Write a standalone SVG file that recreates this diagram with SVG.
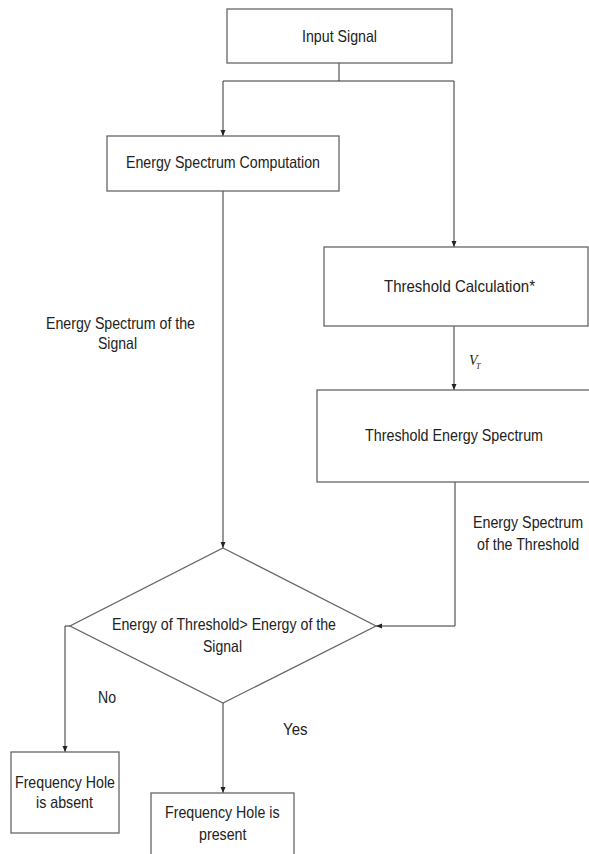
<svg xmlns="http://www.w3.org/2000/svg" width="589" height="854" viewBox="0 0 589 854">
<style>
.box{fill:#fff;stroke:#666;stroke-width:1.3}
.ln{fill:none;stroke:#333;stroke-width:1}
.t{font-family:"Liberation Sans",Arial,sans-serif;font-size:16.5px;fill:#222}
.v{font-family:"Liberation Serif","Times New Roman",serif;font-style:italic;fill:#222}
</style>
<defs>
<marker id="ah" markerUnits="userSpaceOnUse" markerWidth="7" markerHeight="6" refX="6" refY="2.5" orient="auto">
<path d="M0,0 L6,2.5 L0,5 z" fill="#222"/>
</marker>
</defs>
<rect width="589" height="854" fill="#fff"/>
<g id="connectors">
<polyline class="ln" points="339,63 339,81"/>
<polyline class="ln" points="339,81 223,81 223,136" marker-end="url(#ah)"/>
<polyline class="ln" points="339,81 454,81 454,247" marker-end="url(#ah)"/>
<polyline class="ln" points="223,191 223,548" marker-end="url(#ah)"/>
<polyline class="ln" points="454,326 454,390" marker-end="url(#ah)"/>
<polyline class="ln" points="455,482 455,626 376,626" marker-end="url(#ah)"/>
<polyline class="ln" points="70,626 65,626 65,752" marker-end="url(#ah)"/>
<polyline class="ln" points="223,703 223,793" marker-end="url(#ah)"/>
<text class="t" x="46" y="329" textLength="149" lengthAdjust="spacingAndGlyphs">Energy Spectrum of the</text>
<text class="t" x="98" y="349" textLength="39" lengthAdjust="spacingAndGlyphs">Signal</text>
<text class="v" x="469" y="365" font-size="14">V</text>
<text class="v" x="476" y="369" font-size="8">T</text>
<text class="t" transform="translate(473,528) scale(0.865,1)">Energy Spectrum</text>
<text class="t" transform="translate(477,550) scale(0.86,1)">of the Threshold</text>
<text class="t" x="98" y="703" textLength="18" lengthAdjust="spacingAndGlyphs">No</text>
<text class="t" x="283" y="735" textLength="24.5" lengthAdjust="spacingAndGlyphs">Yes</text>
</g>
<g id="input">
<rect class="box" x="227" y="9" width="225" height="54"/>
<text class="t" x="302" y="42" textLength="75" lengthAdjust="spacingAndGlyphs">Input Signal</text>
</g>
<g id="esc">
<rect class="box" x="107" y="136" width="232" height="55"/>
<text class="t" x="126" y="168" textLength="194" lengthAdjust="spacingAndGlyphs">Energy Spectrum Computation</text>
</g>
<g id="tcalc">
<rect class="box" x="324" y="247" width="264" height="79"/>
<text class="t" x="384" y="292" textLength="151" lengthAdjust="spacingAndGlyphs">Threshold Calculation*</text>
</g>
<g id="tes">
<rect class="box" x="317" y="390" width="280" height="92"/>
<text class="t" x="365" y="441" textLength="178" lengthAdjust="spacingAndGlyphs">Threshold Energy Spectrum</text>
</g>
<g id="decision">
<polygon class="box" points="223,548 376,626 223,703 70,626"/>
<text class="t" x="112" y="630" textLength="224" lengthAdjust="spacingAndGlyphs">Energy of Threshold&gt; Energy of the</text>
<text class="t" x="203" y="652" textLength="39" lengthAdjust="spacingAndGlyphs">Signal</text>
</g>
<g id="absent">
<rect class="box" x="11" y="752" width="108" height="81"/>
<text class="t" x="15" y="788" textLength="100" lengthAdjust="spacingAndGlyphs">Frequency Hole</text>
<text class="t" x="36" y="808" textLength="57" lengthAdjust="spacingAndGlyphs">is absent</text>
</g>
<g id="present">
<rect class="box" x="151" y="793" width="143" height="70"/>
<text class="t" x="165" y="818" textLength="114.5" lengthAdjust="spacingAndGlyphs">Frequency Hole is</text>
<text class="t" x="199" y="840" textLength="47.5" lengthAdjust="spacingAndGlyphs">present</text>
</g>
</svg>
